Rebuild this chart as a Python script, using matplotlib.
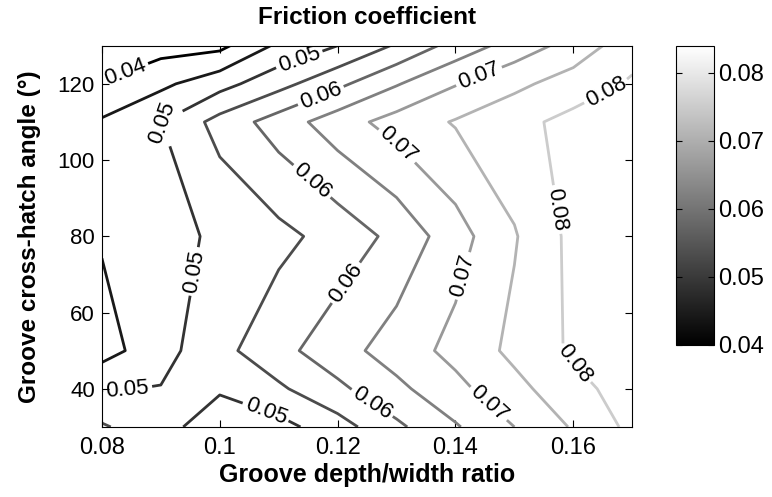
import numpy as np
import matplotlib
matplotlib.use("Agg")
import matplotlib.pyplot as plt
from matplotlib import colors, cm

plt.rcParams['font.family'] = ['Liberation Sans', 'DejaVu Sans']

# groove depth/width ratio (x) and cross-hatch angle in degrees (y)
ratio = [0.08, 0.09, 0.10, 0.11, 0.12, 0.13, 0.14, 0.15, 0.16, 0.17]
angle = [30, 40, 50, 80, 110, 120, 130]

# friction coefficient, one row per angle
mu_30 = [0.0556, 0.0516, 0.0474, 0.0483, 0.0529, 0.0590, 0.0645, 0.0700, 0.0755, 0.0813]
mu_40 = [0.0497, 0.0502, 0.0505, 0.0542, 0.0589, 0.0638, 0.0686, 0.0735, 0.0783, 0.0825]
mu_50 = [0.0429, 0.0482, 0.0535, 0.0584, 0.0630, 0.0673, 0.0715, 0.0762, 0.0808, 0.0830]
mu_80 = [0.0455, 0.0482, 0.0509, 0.0536, 0.0569, 0.0614, 0.0679, 0.0746, 0.0814, 0.0840]
mu_110 = [0.0456, 0.0499, 0.0568, 0.0623, 0.0677, 0.0720, 0.0754, 0.0785, 0.0815, 0.0830]
mu_120 = [0.0402, 0.0439, 0.0482, 0.0533, 0.0588, 0.0646, 0.0697, 0.0738, 0.0773, 0.0806]
mu_130 = [0.0375, 0.0380, 0.0387, 0.0460, 0.0500, 0.0556, 0.0619, 0.0671, 0.0719, 0.0781]

major_levels = [0.04, 0.05, 0.06, 0.07, 0.08]
minor_levels = [0.045, 0.055, 0.065, 0.075]

# where the inline labels sit (ratio, angle)
label_spots = [
    (0.0839, 123.2), (0.1137, 125.5), (0.0882, 108.7), (0.1171, 117.1),
    (0.1447, 119.2), (0.1660, 116.6), (0.1154, 94.0), (0.1299, 103.5),
    (0.1571, 87.0), (0.0960, 70.7), (0.1226, 66.5), (0.1418, 69.4),
    (0.1600, 46.3), (0.1462, 37.1), (0.1260, 36.6), (0.1079, 34.4),
    (0.0844, 39.2),
]

Z = np.array([mu_30, mu_40, mu_50, mu_80, mu_110, mu_120, mu_130])
X, Y = np.meshgrid(ratio, angle)
norm = colors.Normalize(vmin=0.04, vmax=0.084)
# lines a touch darker than the bar so the light ones still read
line_norm = colors.Normalize(vmin=0.04, vmax=0.09)

fig = plt.figure(figsize=(7.72, 4.97), dpi=100)
ax = fig.add_axes([0.132, 0.141, 0.687, 0.767])
ax.contour(X, Y, Z, levels=minor_levels, cmap='gray', norm=line_norm, linewidths=2.0)
cs = ax.contour(X, Y, Z, levels=major_levels, cmap='gray', norm=line_norm, linewidths=2.0)
ax.clabel(cs, fmt='%g', colors='k', fontsize=16, inline=True,
          inline_spacing=3, manual=label_spots)

ax.set_xlim(0.08, 0.17)
ax.set_ylim(30, 130)
ax.set_xticks([0.08, 0.1, 0.12, 0.14, 0.16])
ax.set_xticklabels(['0.08', '0.1', '0.12', '0.14', '0.16'])
ax.set_yticks([40, 60, 80, 100, 120])
ax.tick_params(direction='in', top=True, right=True, length=5)
ax.tick_params(axis='x', labelsize=17, pad=7)
ax.tick_params(axis='y', labelsize=16, pad=5)
ax.set_title('Friction coefficient', fontsize=17.5, fontweight='bold', pad=16)
ax.set_xlabel('Groove depth/width ratio', fontsize=18, fontweight='bold', labelpad=3)
ax.set_ylabel('Groove cross-hatch angle (°)', fontsize=17.5, fontweight='bold', labelpad=12)

cax = fig.add_axes([0.8756, 0.306, 0.049, 0.602])
sm = cm.ScalarMappable(norm=norm, cmap='gray')
cb = fig.colorbar(sm, cax=cax, ticks=major_levels)
cb.ax.set_yticklabels(['0.04', '0.05', '0.06', '0.07', '0.08'])
cb.ax.tick_params(direction='in', left=True, right=True, labelsize=17, length=4, pad=3)

fig.savefig('out.png', dpi=100)
